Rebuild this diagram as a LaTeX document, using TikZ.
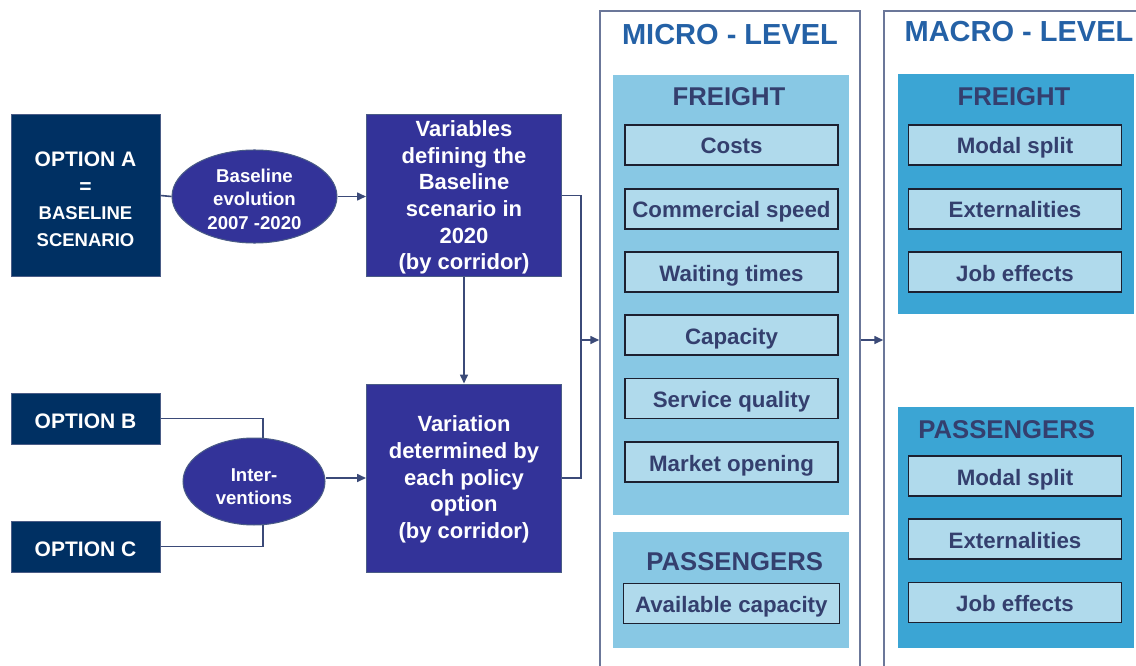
\documentclass[tikz,border=0pt]{standalone}
\usepackage{fontspec}
\setmainfont{Liberation Sans}
\usetikzlibrary{shapes.geometric,arrows.meta}
\definecolor{navy}{HTML}{003063}
\definecolor{navyedge}{HTML}{4A5C86}
\definecolor{indigo}{HTML}{333399}
\definecolor{linec}{HTML}{3B4A78}
\definecolor{levelc}{HTML}{6B7799}
\definecolor{titleblue}{HTML}{2461A6}
\definecolor{microfill}{HTML}{88C8E4}
\definecolor{macrofill}{HTML}{3BA5D4}
\definecolor{itemfill}{HTML}{B0DAEC}
\definecolor{itemedge}{HTML}{1C2030}
\definecolor{itemtext}{HTML}{343F6E}
\newcommand\myfs[2]{\fontsize{#1}{#2}\selectfont}
\begin{document}
\begin{tikzpicture}[x=1pt,y=-1pt,
  optbox/.style={rectangle, draw=navyedge, line width=1pt, fill=navy, text=white,
    font=\bfseries, align=center, inner sep=0pt},
  varbox/.style={rectangle, draw=navyedge, line width=1pt, fill=indigo, text=white,
    font=\bfseries\myfs{22}{26.7}, align=center, inner sep=0pt,
    minimum width=195pt},
  oval/.style={ellipse, draw=navyedge, line width=1pt, fill=indigo, text=white,
    font=\bfseries\myfs{18.6}{23.3}, align=center, inner sep=0pt},
  conn/.style={draw=linec, line width=1.6pt},
  arr/.style={conn, -{Triangle[length=9pt,width=8pt]}},
  levelbox/.style={rectangle, draw=levelc, line width=1.5pt, inner sep=0pt},
  leveltitle/.style={text=titleblue, font=\bfseries\myfs{29}{32}, inner sep=0pt},
  panel/.style={rectangle, inner sep=0pt},
  paneltitle/.style={text=itemtext, font=\bfseries\myfs{25.7}{28}, inner sep=0pt},
  itembox/.style={rectangle, draw=itemedge, line width=1.3pt, fill=itemfill, text=itemtext,
    font=\bfseries\myfs{22.3}{24}, inner sep=0pt, minimum width=213pt, minimum height=40pt,
    text height=18pt, text depth=0pt}
]
\useasboundingbox (0,0) rectangle (1136,666);
\fill[white] (0,0) rectangle (1136,666);

% left part
\node[optbox, minimum width=149pt, minimum height=161pt, font=\bfseries\myfs{18.5}{26.7}] (optA) at (85.5,195.5)
  {\rule{0pt}{22pt}{\myfs{21}{26.7}OPTION A}\\{\myfs{21}{26.7}=}\\BASELINE\\SCENARIO};
\node[optbox, minimum width=149pt, minimum height=51pt, font=\bfseries\myfs{21}{24},
  text height=20pt, text depth=0pt] (optB) at (85.5,418.5) {OPTION B};
\node[optbox, minimum width=149pt, minimum height=51pt, font=\bfseries\myfs{21}{24},
  text height=20pt, text depth=0pt] (optC) at (85.5,546.5) {OPTION C};

\node[oval, minimum width=165pt, minimum height=85pt] (base) at (254.5,196.5)
  {\rule{0pt}{19pt}Baseline\\evolution\\2007 -2020};
\node[oval, minimum width=142pt, minimum height=87pt] (inter) at (254,481.5)
  {\rule{0pt}{22.5pt}Inter-\\ventions};

\node[varbox, minimum height=161pt] (var1) at (464,195.5)
  {\rule{0pt}{20pt}Variables\\defining the\\Baseline\\scenario in\\2020\\(by corridor)};
\node[varbox, minimum height=188pt] (var2) at (464,478)
  {\rule{0pt}{19pt}Variation\\determined by\\each policy\\option\\(by corridor)};

% level boxes
\node[levelbox, minimum width=260pt, minimum height=700pt] (micro) at (730,361) {};
\node[levelbox, minimum width=262pt, minimum height=700pt] (macro) at (1015,361) {};
\node[leveltitle] (microT) at (730,35) {MICRO - LEVEL};
\node[leveltitle] (macroT) at (1019,32) {MACRO - LEVEL};

% micro panels
\node[panel, fill=microfill, minimum width=236pt, minimum height=440pt] (mfr) at (731,295) {};
\node[paneltitle] (mfrT) at (729,97) {FREIGHT};
\node[itembox] (m1) at (731.5,145) {Costs};
\node[itembox] (m2) at (731.5,209) {Commercial speed};
\node[itembox] (m3) at (731.5,272) {Waiting times};
\node[itembox] (m4) at (731.5,335) {Capacity};
\node[itembox] (m5) at (731.5,398.5) {Service quality};
\node[itembox] (m6) at (731.5,462) {Market opening};

\node[panel, fill=microfill, minimum width=236pt, minimum height=115.5pt] (mpa) at (731,590) {};
\node[paneltitle] (mpaT) at (734.7,561.5) {PASSENGERS};
\node[itembox, minimum width=216pt] (mp1) at (731.3,603.3) {Available capacity};

% macro panels
\node[panel, fill=macrofill, minimum width=236pt, minimum height=240pt] (Mfr) at (1016,194) {};
\node[paneltitle] (MfrT) at (1014,97) {FREIGHT};
\node[itembox] (M1) at (1015,145) {Modal split};
\node[itembox] (M2) at (1015,209) {Externalities};
\node[itembox] (M3) at (1015,272) {Job effects};

\node[panel, fill=macrofill, minimum width=236pt, minimum height=240.5pt] (Mpa) at (1016,527.5) {};
\node[paneltitle] (MpaT) at (1006.7,430) {PASSENGERS};
\node[itembox] (P1) at (1015,476) {Modal split};
\node[itembox] (P2) at (1015,539) {Externalities};
\node[itembox] (P3) at (1015,602.5) {Job effects};

% connectors
\coordinate (jm) at (581,340);
\draw[conn] (optA.east) -- (base.west);
\draw[arr] (base.east) -- (var1.west |- base.east);
\draw[conn] (optB.east) -| (inter.78);
\draw[conn] (optC.east) -| (inter.-78);
\draw[arr] (inter.east |- var2.west) -- (var2.west);
\draw[arr] (var1.south) -- (var2.north);
\draw[conn] (var1.east) -- (var1.east -| jm) -- (var2.east -| jm) -- (var2.east);
\draw[arr] (jm) -- (micro.west |- jm);
\draw[arr] (micro.east |- jm) -- (macro.west |- jm);
\end{tikzpicture}
\end{document}
